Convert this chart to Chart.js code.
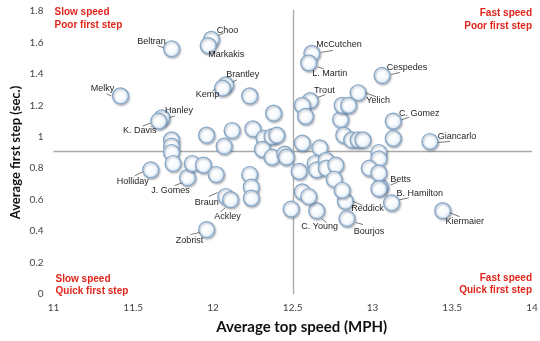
<!DOCTYPE html>
<html>
<head>
<meta charset="utf-8">
<script src="https://cdn.jsdelivr.net/npm/chart.js@4"></script>
<style>
  html, body { margin: 0; padding: 0; background: #ffffff; }
  #wrap { width: 540px; height: 341px; }
</style>
</head>
<body>
<div id="wrap"><canvas id="c" width="540" height="341"></canvas></div>
<script>
// Player names ('' = unlabeled dot)
const players = [
  'Beltran', 'Choo', 'Markakis', 'Brantley', 'Kemp', 'Melky', 'Hanley', 'K. Davis',
  'Holliday', 'J. Gomes', 'Braun', 'Ackley', 'Zobrist', 'McCutchen', 'L. Martin',
  'Cespedes', 'Trout', 'Yelich', 'C. Gomez', 'Giancarlo', 'Betts', 'B. Hamilton',
  'Kiermaier', 'Reddick', 'Bourjos', 'C. Young',
  '', '', '', '', '', '', '', '', '', '',
  '', '', '', '', '', '', '', '', '', '',
  '', '', '', '', '', '', '', '', '', '',
  '', '', '', '', '', '', '', '', '', '',
  '', '', '', '', '', '', '', '', '', '',
  ''
];

// Average top speed (MPH)
const topSpeed = [
  11.74, 11.99, 11.97, 12.08, 12.06, 11.42, 11.68, 11.66,
  11.61, 11.84, 12.08, 12.11, 11.96, 12.62, 12.60,
  13.06, 12.61, 12.91, 13.13, 13.36, 13.05, 13.12,
  13.44, 12.83, 12.84, 12.65,
  12.23, 12.38, 11.74, 11.74, 11.74, 11.75, 11.96, 12.12, 12.25, 12.07,
  11.87, 11.94, 12.02, 12.23, 12.24, 12.24, 12.32, 12.37, 12.40, 12.31,
  12.37, 12.45, 12.46, 12.49, 12.56, 12.54, 12.56, 12.58, 12.67, 12.64,
  12.65, 12.71, 12.71, 12.77, 12.76, 12.56, 12.60, 12.81, 12.80, 12.81,
  12.85, 12.82, 12.87, 12.91, 12.94, 13.04, 13.04, 12.98, 13.04, 13.04,
  13.13
];

// Average first step (sec.)
const firstStep = [
  1.56, 1.62, 1.58, 1.33, 1.31, 1.26, 1.12, 1.10,
  0.79, 0.74, 0.62, 0.60, 0.41, 1.53, 1.47,
  1.39, 1.23, 1.28, 1.10, 0.97, 0.68, 0.58,
  0.53, 0.59, 0.48, 0.53,
  1.26, 1.15, 0.98, 0.94, 0.90, 0.83, 1.01, 1.04, 1.05, 0.94,
  0.83, 0.82, 0.76, 0.76, 0.68, 0.61, 0.99, 1.00, 1.01, 0.92,
  0.87, 0.89, 0.87, 0.54, 0.96, 0.78, 1.20, 1.13, 0.93, 0.83,
  0.79, 0.85, 0.80, 0.82, 0.73, 0.65, 0.62, 0.66, 1.11, 1.20,
  1.20, 1.01, 0.98, 0.98, 0.98, 0.90, 0.86, 0.80, 0.77, 0.67,
  0.99
];

// Axis ticks and reference lines
const xTicks = [11, 11.5, 12, 12.5, 13, 13.5, 14];
const yTicks = [0, 0.2, 0.4, 0.6, 0.8, 1, 1.2, 1.4, 1.6, 1.8];
const speedDivider = 12.5;
const stepDivider = 0.91;

const xTitle = 'Average top speed (MPH)';
const yTitle = 'Average first step (sec.)';

// Quadrant captions
const quadrants = {
  topLeft: ['Slow speed', 'Poor first step'],
  topRight: ['Fast speed', 'Poor first step'],
  bottomLeft: ['Slow speed', 'Quick first step'],
  bottomRight: ['Fast speed', 'Quick first step']
};

// Name placement: [text dx, text dy, leader x1, y1, x2, y2] in px from the dot
const labelPlacement = {
  'Beltran':     [-20, -7, -14, -3, -8, -1],
  'Choo':        [16, -9, 7, -4, 12, -6],
  'Markakis':    [18, 9, 3, 5, 7, 7],
  'Brantley':    [17, -10, 7, -3, 11, -5],
  'Kemp':        [-15, 6, -10, 3, -7, 1],
  'Melky':       [-18, -7, -14, -2, -9, 0],
  'Hanley':      [17, -7, 7, 0, 13, -2],
  'K. Davis':    [-19, 9, -16, 5, -8, 2],
  'Holliday':    [-18, 12, -16, 6, -8, 2],
  'J. Gomes':    [-17, 13, -13, 8, -5, 5],
  'Braun':       [-19, 6, -17, 0, -8, -4],
  'Ackley':      [-3, 17, -10, 12, -5, 8],
  'Zobrist':     [-17, 11, -16, 5, -7, 3],
  'McCutchen':   [27, -9, 9, -1, 21, -3],
  'L. Martin':   [21, 11, 9, 4, 15, 6],
  'Cespedes':    [25, -8, 9, -1, 18, -3],
  'Trout':       [14, -10, 7, -3, 15, -6],
  'Yelich':      [20, 8, 7, 0, 18, 4],
  'C. Gomez':    [26, -8, 8, -1, 16, -4],
  'Giancarlo':   [27, -5, 8, 1, 20, 0],
  'Betts':       [20, -8, 10, -2, 17, -5],
  'B. Hamilton': [28, -9, 8, -3, 17, -5],
  'Kiermaier':   [22, 11, 7, 2, 17, 6],
  'Reddick':     [22, 7, 7, 0, 17, 4],
  'Bourjos':     [22, 13, 9, 4, 16, 6],
  'C. Young':    [3, 16, 5, 8, 10, 12]
};

const points = topSpeed.map((x, i) => ({ x: x, y: firstStep[i] }));

// Soft bubble fill for each dot
function bubbleFill(ctx) {
  const chart = ctx.chart;
  const raw = ctx.raw;
  if (!raw || !chart.scales || !chart.scales.x || !chart.scales.y) return '#f4f8fc';
  const px = chart.scales.x.getPixelForValue(raw.x);
  const py = chart.scales.y.getPixelForValue(raw.y);
  if (!Number.isFinite(px) || !Number.isFinite(py)) return '#f4f8fc';
  const g = chart.ctx.createRadialGradient(px - 2, py - 2, 1, px, py, 8);
  g.addColorStop(0, '#ffffff');
  g.addColorStop(0.65, '#f5f9fd');
  g.addColorStop(1, '#c8dbee');
  return g;
}

// Divider lines, quadrant captions, shadows, name labels and x title
const annotate = {
  id: 'annotate',
  beforeDatasetsDraw(chart) {
    const { ctx, chartArea: a, scales: { x, y } } = chart;
    ctx.save();
    ctx.strokeStyle = '#a9a9a9';
    ctx.lineWidth = 1.3;
    const vx = Math.round(x.getPixelForValue(speedDivider)) + 0.5;
    const hy = Math.round(y.getPixelForValue(stepDivider)) + 0.5;
    ctx.beginPath();
    ctx.moveTo(vx, a.top - 1);
    ctx.lineTo(vx, a.bottom);
    ctx.moveTo(a.left, hy);
    ctx.lineTo(a.right, hy);
    ctx.stroke();

    ctx.fillStyle = '#e1251b';
    ctx.font = 'bold 10px "Liberation Sans", Arial, sans-serif';
    ctx.textBaseline = 'middle';
    ctx.textAlign = 'left';
    ctx.fillText(quadrants.topLeft[0], a.left + 1, 12);
    ctx.fillText(quadrants.topLeft[1], a.left + 1, 25);
    ctx.fillText(quadrants.bottomLeft[0], a.left + 2, 279);
    ctx.fillText(quadrants.bottomLeft[1], a.left + 2, 291);
    ctx.textAlign = 'right';
    ctx.fillText(quadrants.topRight[0], a.right, 13);
    ctx.fillText(quadrants.topRight[1], a.right, 26);
    ctx.fillText(quadrants.bottomRight[0], a.right, 278);
    ctx.fillText(quadrants.bottomRight[1], a.right, 290);

    // x-axis title, set a little right of the plot centre
    ctx.fillStyle = '#111111';
    ctx.font = 'bold 15px Lato, sans-serif';
    ctx.textAlign = 'center';
    ctx.fillText(xTitle, (a.left + a.right) / 2 + 9, 327);
    ctx.restore();
  },
  beforeDatasetDraw(chart) {
    const ctx = chart.ctx;
    ctx.save();
    ctx.shadowColor = 'rgba(60, 70, 90, 0.35)';
    ctx.shadowBlur = 2;
    ctx.shadowOffsetX = 1;
    ctx.shadowOffsetY = 1.5;
  },
  afterDatasetDraw(chart) {
    chart.ctx.restore();
  },
  afterDatasetsDraw(chart) {
    const { ctx, scales: { x, y } } = chart;
    ctx.save();
    ctx.font = '9px "Liberation Sans", Arial, sans-serif';
    ctx.fillStyle = '#1e1e1e';
    ctx.strokeStyle = '#555555';
    ctx.lineWidth = 0.8;
    ctx.textAlign = 'center';
    ctx.textBaseline = 'middle';
    players.forEach((name, i) => {
      if (!name) return;
      const p = labelPlacement[name];
      const px = x.getPixelForValue(topSpeed[i]);
      const py = y.getPixelForValue(firstStep[i]);
      ctx.beginPath();
      ctx.moveTo(px + p[2], py + p[3]);
      ctx.lineTo(px + p[4], py + p[5]);
      ctx.stroke();
      ctx.fillText(name, px + p[0], py + p[1]);
    });
    ctx.restore();
  }
};

new Chart(document.getElementById('c'), {
  type: 'scatter',
  data: {
    datasets: [{
      data: points,
      pointRadius: 8,
      pointHoverRadius: 8,
      pointBorderWidth: 1.2,
      pointBorderColor: '#86a7c6',
      pointBackgroundColor: bubbleFill,
      clip: false
    }]
  },
  options: {
    responsive: false,
    animation: false,
    devicePixelRatio: 1,
    layout: { autoPadding: false, padding: { top: 11, right: 8, left: 0, bottom: 0 } },
    plugins: { legend: { display: false }, tooltip: { enabled: false } },
    scales: {
      x: {
        type: 'linear',
        min: xTicks[0],
        max: xTicks[xTicks.length - 1],
        afterBuildTicks(scale) { scale.ticks = xTicks.map(v => ({ value: v })); },
        afterFit(scale) {
          scale.height = 47;
          scale.paddingLeft = 0;
          scale.paddingRight = 0;
        },
        grid: { display: false, drawTicks: false },
        border: { display: false },
        ticks: {
          padding: 8,
          color: '#444444',
          font: { family: 'Lato, sans-serif', size: 10 },
          callback: v => String(v)
        },
        title: { display: false }
      },
      y: {
        type: 'linear',
        min: yTicks[0],
        max: yTicks[yTicks.length - 1],
        afterBuildTicks(scale) { scale.ticks = yTicks.map(v => ({ value: v })); },
        afterFit(scale) {
          scale.width = 53.5;
          scale.paddingTop = 0;
          scale.paddingBottom = 0;
        },
        grid: { display: false, drawTicks: false },
        border: { display: false },
        ticks: {
          padding: 10,
          color: '#444444',
          font: { family: 'Lato, sans-serif', size: 10 },
          callback: v => String(v)
        },
        title: {
          display: true,
          text: yTitle,
          color: '#111111',
          font: { family: 'Lato, sans-serif', size: 13, weight: 'bold' },
          padding: { top: 8, bottom: 0 }
        }
      }
    }
  },
  plugins: [annotate]
});
</script>
</body>
</html>
